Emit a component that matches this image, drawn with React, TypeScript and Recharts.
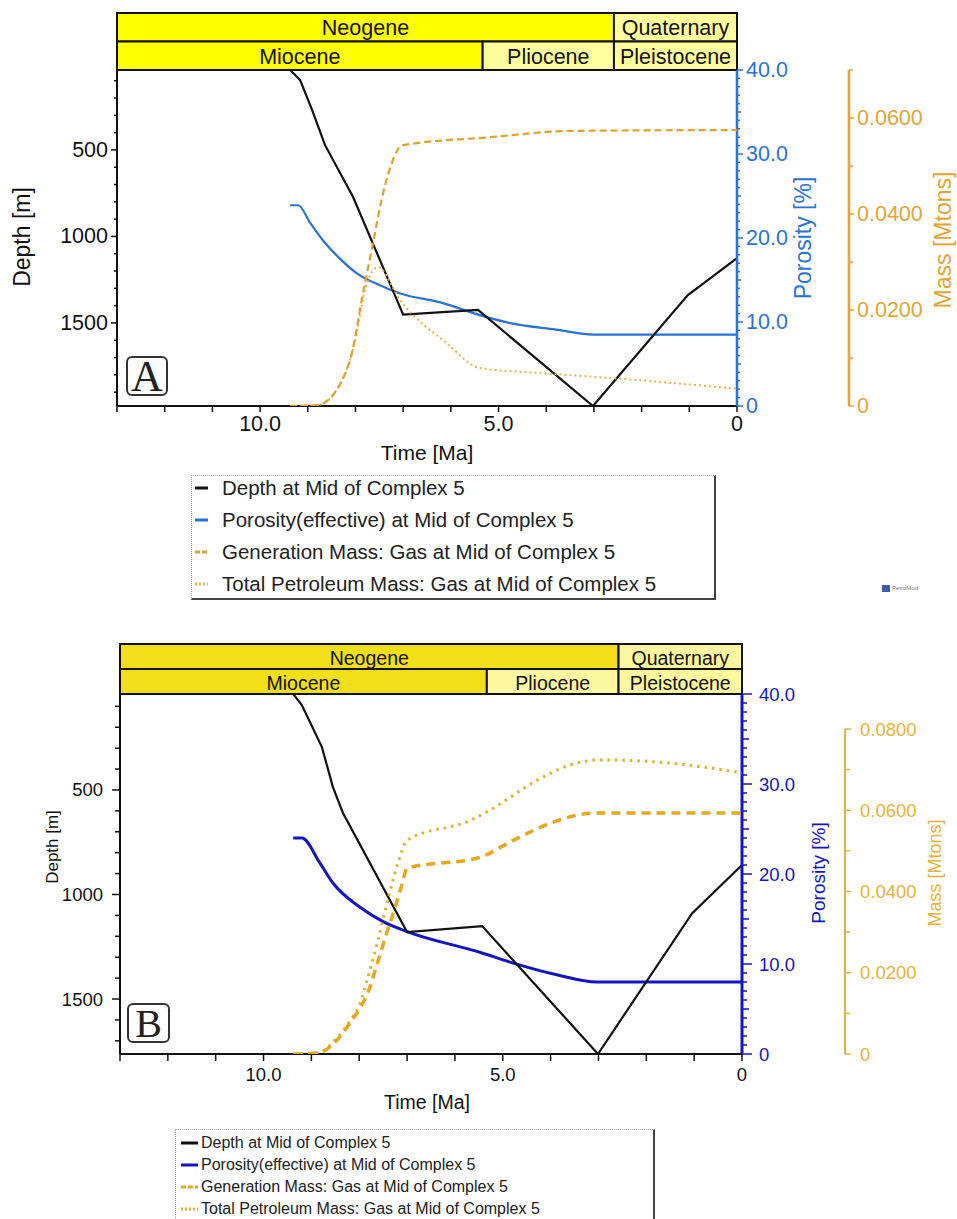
import React from 'react';
import { LineChart, Line, XAxis, YAxis, ReferenceArea } from 'recharts';

const W = 957;
const FONT = '"Liberation Sans", Arial, sans-serif';
const SERIF = '"Liberation Serif", "DejaVu Serif", serif';

// ---------------- Panel A data (time in Ma) ----------------
const aDepthT = [9.37, 9.16, 8.91, 8.64, 8.05, 7.0, 5.43, 3.02, 1.03, 0];
const aDepthV = [38, 96, 269, 471, 772, 1452, 1425, 1980, 1339, 1125];
const aPorT = [9.37, 9.2, 8.95, 8.68, 8.3, 7.97, 7.5, 7.06, 6.2, 5.32, 4.7, 3.8, 3.0, 0];
const aPorV = [23.9, 23.9, 21.8, 19.7, 17.4, 15.8, 14.4, 13.4, 12.3, 10.7, 9.8, 9.1, 8.5, 8.5];
const aGenT = [9.37, 8.8, 8.32, 8.05, 7.86, 7.65, 7.44, 7.27, 7.02, 5.18, 3.5, 0];
const aGenV = [0, 0.0002, 0.0046, 0.0121, 0.0226, 0.033, 0.0435, 0.0497, 0.0543, 0.056, 0.0573, 0.0575];
const aTotT = [9.37, 8.8, 8.32, 8.05, 7.76, 7.53, 7.06, 6.08, 5.39, 4.19, 3.02, 2.6, 0];
const aTotV = [0, 0.0002, 0.0046, 0.0118, 0.0255, 0.0289, 0.022, 0.013, 0.0079, 0.0069, 0.0061, 0.0058, 0.0036];

// ---------------- Panel B data (time in Ma) ----------------
const bDepthT = [9.38, 9.2, 8.78, 8.55, 8.34, 7.0, 5.43, 3.01, 1.04, 0];
const bDepthV = [41, 94, 295, 486, 610, 1180, 1151, 1763, 1089, 859];
const bPorT = [9.38, 9.2, 8.82, 8.55, 7.98, 7.5, 7.0, 5.48, 4.78, 3.87, 3.03, 0];
const bPorV = [24.0, 24.0, 21.2, 19.0, 16.3, 14.7, 13.6, 11.3, 10.1, 8.8, 8.0, 8.0];
const bGenT = [9.38, 8.85, 8.5, 8.2, 7.95, 7.84, 7.63, 7.42, 7.29, 7.1, 7.0, 5.48, 4.78, 3.94, 3.1, 0];
const bGenV = [0, 0.0003, 0.003, 0.0075, 0.012, 0.0145, 0.022, 0.03, 0.0346, 0.042, 0.0457, 0.0484, 0.0526, 0.0571, 0.0593, 0.0593];
const bTotT = [9.38, 8.85, 8.5, 8.2, 7.95, 7.84, 7.63, 7.4, 7.19, 7.0, 5.68, 5.27, 4.28, 3.6, 2.97, 1.5, 0];
const bTotV = [0, 0.0003, 0.0035, 0.008, 0.0135, 0.018, 0.027, 0.038, 0.047, 0.0526, 0.0575, 0.06, 0.0674, 0.0711, 0.0724, 0.0716, 0.0692];

// ---------------- Axes: ticks & labels ----------------
const timeTicks = [0, 1, 2, 3, 4, 5, 6, 7, 8, 9, 10, 11, 12, 13];
const timeLabels: [number, string][] = [[10, '10.0'], [5, '5.0'], [0, '0']];
const porTicks = Array.from({ length: 41 }, (_, i) => i);
const porLabels: [number, string][] = [[40, '40.0'], [30, '30.0'], [20, '20.0'], [10, '10.0'], [0, '0']];
const aDepthTicks = Array.from({ length: 19 }, (_, i) => (i + 1) * 100);
const bDepthTicks = Array.from({ length: 17 }, (_, i) => (i + 1) * 100);
const depthLabels: [number, string][] = [[500, '500'], [1000, '1000'], [1500, '1500']];
const aMassTicks = [0, 0.01, 0.02, 0.03, 0.04, 0.05, 0.06, 0.07];
const aMassLabels: [number, string][] = [[0, '0'], [0.02, '0.0200'], [0.04, '0.0400'], [0.06, '0.0600']];
const bMassTicks = [0, 0.01, 0.02, 0.03, 0.04, 0.05, 0.06, 0.07, 0.08];
const bMassLabels: [number, string][] = [[0, '0'], [0.02, '0.0200'], [0.04, '0.0400'], [0.06, '0.0600'], [0.08, '0.0800']];

// ---------------- Geologic time scale ----------------
const periodNames = ['Neogene', 'Quaternary'];
const periodStart = [23.03, 2.58];
const periodEnd = [2.58, 0];
const epochNames = ['Miocene', 'Pliocene', 'Pleistocene'];
const epochStart = [23.03, 5.333, 2.58];
const epochEnd = [5.333, 2.58, 0];

const legendNames = [
  'Depth at Mid of Complex 5',
  'Porosity(effective) at Mid of Complex 5',
  'Generation Mass: Gas at Mid of Complex 5',
  'Total Petroleum Mass: Gas at Mid of Complex 5',
];

const zip = (t: number[], v: number[]) => t.map((x, i) => ({ t: x, v: v[i] }));

type TickOpt = {
  labels: [number, string][];
  color: string;
  font: number;
  gap: number;
  major: number;
  minor: number;
  mid?: number;
  midEvery?: number;
  side: 'left' | 'right' | 'bottom';
  sw?: number;
};

function makeTick(o: TickOpt) {
  return (props: any) => {
    const { x, y, payload } = props;
    const v = Number(payload && payload.value);
    const hit = o.labels.find(([lv]) => Math.abs(lv - v) < 1e-7);
    let len = hit ? o.major : o.minor;
    if (!hit && o.mid && o.midEvery) {
      const r = v / o.midEvery;
      if (Math.abs(r - Math.round(r)) < 1e-7) len = o.mid;
    }
    const sw = o.sw ?? 1.5;
    if (o.side === 'bottom') {
      return (
        <g>
          <line x1={x} x2={x} y1={y} y2={y + len} stroke={o.color} strokeWidth={sw} />
          {hit && (
            <text x={x} y={y + o.gap} textAnchor="middle" dominantBaseline="central" fontSize={o.font} fill={o.color} fontFamily={FONT}>
              {hit[1]}
            </text>
          )}
        </g>
      );
    }
    const dir = o.side === 'left' ? -1 : 1;
    return (
      <g>
        <line x1={x} x2={x + dir * len} y1={y} y2={y} stroke={o.color} strokeWidth={sw} />
        {hit && (
          <text x={x + dir * o.gap} y={y} textAnchor={o.side === 'left' ? 'end' : 'start'} dominantBaseline="central" fontSize={o.font} fill={o.color} fontFamily={FONT}>
            {hit[1]}
          </text>
        )}
      </g>
    );
  };
}

const headerLabel = (name: string, font: number) => (props: any) => {
  const vb = props && props.viewBox;
  if (!vb) return null;
  return (
    <text x={vb.x + vb.width / 2} y={vb.y + vb.height / 2 + 1} textAnchor="middle" dominantBaseline="central" fontSize={font} fontFamily={FONT} fill="#111">
      {name}
    </text>
  );
};

type Series = { t: number[]; v: number[] };
type PanelCfg = {
  chartTop: number;
  chartHeight: number;
  plotLeft: number;
  plotRight: number;
  plotTop: number;
  plotBottom: number;
  massTop: number;
  porWidth: number;
  massWidth: number;
  headerTop: number;
  depthDomain: [number, number];
  depthTicks: number[];
  massDomain: [number, number];
  massTicks: number[];
  massLabels: [number, string][];
  depth: Series;
  por: Series;
  gen: Series;
  tot: Series;
  c: { black: string; blue: string; gen: string; tot: string; massAxis: string; neo: string; pale: string };
  tickFont: number;
  headerFont: number;
  g: { xLen: number; xGap: number; dMaj: number; dMin: number; dGap: number; pMaj: number; pMid: number; pMin: number; pGap: number; mMaj: number; mMin: number; mGap: number };
  w: { black: number; blue: number; gen: number; tot: number; genDash: string; totDash: string; porAxis: number; massAxis: number };
  titles: { depth: [number, number, number]; time: [number, number, number]; por: [number, number, number]; mass: [number, number, number] };
  letter: { ch: string; x: number; y: number; w: number; h: number; font: number };
  legend: { x: number; y: number; w: number; h: number; font: number; rows: number[]; iconX: number; iconW: number; textX: number };
};

function Title({ text, x, y, size, color, rotate }: { text: string; x: number; y: number; size: number; color: string; rotate?: boolean }) {
  return (
    <div
      style={{
        position: 'absolute',
        left: x,
        top: y,
        transform: `translate(-50%, -50%)${rotate ? ' rotate(-90deg)' : ''}`,
        whiteSpace: 'nowrap',
        fontFamily: FONT,
        fontSize: size,
        color,
        lineHeight: 1,
      }}
    >
      {text}
    </div>
  );
}

function Panel({ cfg }: { cfg: PanelCfg }) {
  const hdrH = cfg.plotTop - cfg.headerTop;
  const xAxisH = cfg.chartTop + cfg.chartHeight - cfg.plotBottom;
  const cells = [
    ...periodNames.map((n, i) => ({ n, x1: Math.min(periodStart[i], 13), x2: periodEnd[i], y1: 1, y2: 2, fill: i === 0 ? cfg.c.neo : cfg.c.pale })),
    ...epochNames.map((n, i) => ({ n, x1: Math.min(epochStart[i], 13), x2: epochEnd[i], y1: 0, y2: 1, fill: i === 0 ? cfg.c.neo : cfg.c.pale })),
  ];
  const legendStyles = [
    { color: cfg.c.black, dash: undefined as string | undefined, w: 3 },
    { color: cfg.c.blue, dash: undefined as string | undefined, w: 3 },
    { color: cfg.c.gen, dash: '5 2', w: 3 },
    { color: cfg.c.tot, dash: '2 2', w: 3 },
  ];
  const L = cfg.legend;
  return (
    <>
      {/* geologic time header */}
      <div style={{ position: 'absolute', left: 0, top: cfg.headerTop - 1 }}>
        <LineChart width={W} height={hdrH + 2} margin={{ top: 1, bottom: 1, left: cfg.plotLeft, right: W - cfg.plotRight }}>
          <XAxis xAxisId="t" type="number" dataKey="t" domain={[0, 13]} reversed hide allowDataOverflow />
          <YAxis yAxisId="r" type="number" domain={[0, 2]} hide allowDataOverflow />
          {cells.map((c) => (
            <ReferenceArea
              key={c.n}
              xAxisId="t"
              yAxisId="r"
              x1={c.x1}
              x2={c.x2}
              y1={c.y1}
              y2={c.y2}
              fill={c.fill}
              fillOpacity={1}
              stroke="#111"
              strokeWidth={2}
              ifOverflow="visible"
              label={headerLabel(c.n, cfg.headerFont)}
            />
          ))}
        </LineChart>
      </div>

      {/* depth + porosity */}
      <div style={{ position: 'absolute', left: 0, top: cfg.chartTop }}>
        <LineChart
          width={W}
          height={cfg.chartHeight}
          margin={{ top: cfg.plotTop - cfg.chartTop, left: 0, right: W - cfg.plotRight - cfg.porWidth, bottom: 0 }}
        >
          <XAxis
            xAxisId="t"
            type="number"
            dataKey="t"
            domain={[0, 13]}
            reversed
            allowDataOverflow
            ticks={timeTicks}
            interval={0}
            tickSize={0}
            tickMargin={0}
            height={xAxisH}
            axisLine={{ stroke: '#111', strokeWidth: 2 }}
            tickLine={false}
            tick={makeTick({ labels: timeLabels, color: '#111', font: cfg.tickFont, gap: cfg.g.xGap, major: cfg.g.xLen, minor: cfg.g.xLen, side: 'bottom' })}
          />
          <YAxis
            yAxisId="depth"
            orientation="left"
            type="number"
            width={cfg.plotLeft}
            domain={cfg.depthDomain}
            reversed
            allowDataOverflow
            ticks={cfg.depthTicks}
            interval={0}
            tickSize={0}
            tickMargin={0}
            axisLine={{ stroke: '#111', strokeWidth: 2 }}
            tickLine={false}
            tick={makeTick({ labels: depthLabels, color: '#111', font: cfg.tickFont, gap: cfg.g.dGap, major: cfg.g.dMaj, minor: cfg.g.dMin, side: 'left' })}
          />
          <YAxis
            yAxisId="por"
            orientation="right"
            type="number"
            width={cfg.porWidth}
            domain={[0, 40]}
            allowDataOverflow
            ticks={porTicks}
            interval={0}
            tickSize={0}
            tickMargin={0}
            axisLine={{ stroke: cfg.c.blue, strokeWidth: cfg.w.porAxis }}
            tickLine={false}
            tick={makeTick({ labels: porLabels, color: cfg.c.blue, font: cfg.tickFont, gap: cfg.g.pGap, major: cfg.g.pMaj, minor: cfg.g.pMin, mid: cfg.g.pMid, midEvery: 5, side: 'right' })}
          />
          <Line xAxisId="t" yAxisId="por" data={zip(cfg.por.t, cfg.por.v)} dataKey="v" type="monotone" stroke={cfg.c.blue} strokeWidth={cfg.w.blue} dot={false} isAnimationActive={false} />
          <Line xAxisId="t" yAxisId="depth" data={zip(cfg.depth.t, cfg.depth.v)} dataKey="v" type="linear" stroke={cfg.c.black} strokeWidth={cfg.w.black} dot={false} isAnimationActive={false} />
        </LineChart>
      </div>

      {/* mass series + mass axis (a spacer axis keeps it out beyond the porosity axis) */}
      <div style={{ position: 'absolute', left: 0, top: cfg.chartTop }}>
        <LineChart
          width={W}
          height={cfg.chartHeight}
          margin={{
            top: cfg.massTop - cfg.chartTop,
            left: cfg.plotLeft,
            right: W - cfg.plotRight - cfg.porWidth - cfg.massWidth,
            bottom: xAxisH,
          }}
        >
          <XAxis xAxisId="t" type="number" dataKey="t" domain={[0, 13]} reversed allowDataOverflow hide />
          <YAxis yAxisId="a_spacer" orientation="right" type="number" width={cfg.porWidth} axisLine={false} tickLine={false} tick={false} domain={[0, 1]} />
          <YAxis
            yAxisId="b_mass"
            orientation="right"
            type="number"
            width={cfg.massWidth}
            domain={cfg.massDomain}
            allowDataOverflow
            ticks={cfg.massTicks}
            interval={0}
            tickSize={0}
            tickMargin={0}
            axisLine={{ stroke: cfg.c.massAxis, strokeWidth: cfg.w.massAxis }}
            tickLine={false}
            tick={makeTick({ labels: cfg.massLabels, color: cfg.c.massAxis, font: cfg.tickFont, gap: cfg.g.mGap, major: cfg.g.mMaj, minor: cfg.g.mMin, side: 'right' })}
          />
          <Line xAxisId="t" yAxisId="b_mass" data={zip(cfg.tot.t, cfg.tot.v)} dataKey="v" type="monotone" stroke={cfg.c.tot} strokeWidth={cfg.w.tot} strokeDasharray={cfg.w.totDash} dot={false} isAnimationActive={false} />
          <Line xAxisId="t" yAxisId="b_mass" data={zip(cfg.gen.t, cfg.gen.v)} dataKey="v" type="monotone" stroke={cfg.c.gen} strokeWidth={cfg.w.gen} strokeDasharray={cfg.w.genDash} dot={false} isAnimationActive={false} />
        </LineChart>
      </div>

      {/* axis titles */}
      <Title text="Depth [m]" x={cfg.titles.depth[0]} y={cfg.titles.depth[1]} size={cfg.titles.depth[2]} color="#111" rotate />
      <Title text="Time [Ma]" x={cfg.titles.time[0]} y={cfg.titles.time[1]} size={cfg.titles.time[2]} color="#111" />
      <Title text="Porosity [%]" x={cfg.titles.por[0]} y={cfg.titles.por[1]} size={cfg.titles.por[2]} color={cfg.c.blue} rotate />
      <Title text="Mass [Mtons]" x={cfg.titles.mass[0]} y={cfg.titles.mass[1]} size={cfg.titles.mass[2]} color={cfg.c.massAxis} rotate />

      {/* panel letter */}
      <div
        style={{
          position: 'absolute',
          left: cfg.letter.x,
          top: cfg.letter.y,
          width: cfg.letter.w,
          height: cfg.letter.h,
          boxSizing: 'border-box',
          border: '2px solid #333',
          borderRadius: 6,
          fontFamily: SERIF,
          fontSize: cfg.letter.font,
          lineHeight: `${cfg.letter.h - 2}px`,
          textAlign: 'center',
          color: '#222',
        }}
      >
        {cfg.letter.ch}
      </div>

      {/* legend */}
      <div
        style={{
          position: 'absolute',
          left: L.x,
          top: L.y,
          width: L.w,
          height: L.h,
          boxSizing: 'border-box',
          borderTop: '1px dotted #aaa',
          borderLeft: '1px dotted #aaa',
          borderRight: '2px solid #444',
          borderBottom: '2px solid #444',
          background: '#fff',
        }}
      >
        {legendNames.map((n, i) => (
          <div key={n}>
            <svg style={{ position: 'absolute', left: L.iconX, top: L.rows[i] - 4 }} width={L.iconW} height={8}>
              <line x1={0} x2={L.iconW} y1={4} y2={4} stroke={legendStyles[i].color} strokeWidth={legendStyles[i].w} strokeDasharray={legendStyles[i].dash} />
            </svg>
            <div
              style={{
                position: 'absolute',
                left: L.textX,
                top: L.rows[i],
                transform: 'translateY(-50%)',
                fontFamily: FONT,
                fontSize: L.font,
                color: '#222',
                whiteSpace: 'nowrap',
                lineHeight: 1,
              }}
            >
              {n}
            </div>
          </div>
        ))}
      </div>
    </>
  );
}

const panelA: PanelCfg = {
  chartTop: 0,
  chartHeight: 470,
  plotLeft: 117,
  plotRight: 737,
  plotTop: 70,
  plotBottom: 406,
  massTop: 70,
  porWidth: 112,
  massWidth: 108,
  headerTop: 13,
  depthDomain: [38, 1980],
  depthTicks: aDepthTicks,
  massDomain: [0, 0.07],
  massTicks: aMassTicks,
  massLabels: aMassLabels,
  depth: { t: aDepthT, v: aDepthV },
  por: { t: aPorT, v: aPorV },
  gen: { t: aGenT, v: aGenV },
  tot: { t: aTotT, v: aTotV },
  c: { black: '#111111', blue: '#2a72d6', gen: '#e2a02e', tot: '#e9b44a', massAxis: '#e2a535', neo: '#ffff00', pale: '#ffff9e' },
  tickFont: 21.5,
  headerFont: 21.5,
  g: { xLen: 6, xGap: 18, dMaj: 6, dMin: 3, dGap: 9, pMaj: 6, pMid: 4, pMin: 3, pGap: 9, mMaj: 5, mMin: 4, mGap: 8 },
  w: { black: 2.2, blue: 2.2, gen: 2.2, tot: 2, genDash: '7 4', totDash: '2 3', porAxis: 2.5, massAxis: 2.5 },
  titles: { depth: [22, 237, 23], time: [427, 452, 21], por: [803, 238, 23], mass: [943, 240, 23] },
  letter: { ch: 'A', x: 126, y: 356, w: 42, h: 40, font: 44 },
  legend: { x: 191, y: 475, w: 525, h: 125, font: 20.5, rows: [12, 44, 76, 108], iconX: 3, iconW: 13, textX: 30 },
};

const panelB: PanelCfg = {
  chartTop: 600,
  chartHeight: 520,
  plotLeft: 120,
  plotRight: 742,
  plotTop: 694,
  plotBottom: 1054,
  massTop: 729,
  porWidth: 103,
  massWidth: 112,
  headerTop: 644,
  depthDomain: [41, 1763],
  depthTicks: bDepthTicks,
  massDomain: [0, 0.08],
  massTicks: bMassTicks,
  massLabels: bMassLabels,
  depth: { t: bDepthT, v: bDepthV },
  por: { t: bPorT, v: bPorV },
  gen: { t: bGenT, v: bGenV },
  tot: { t: bTotT, v: bTotV },
  c: { black: '#111111', blue: '#1414c0', gen: '#e5a81f', tot: '#e6ae2a', massAxis: '#e8b23a', neo: '#f2df18', pale: '#fbf8a0' },
  tickFont: 18.5,
  headerFont: 19.5,
  g: { xLen: 7, xGap: 20, dMaj: 8, dMin: 5, dGap: 17, pMaj: 10, pMid: 7, pMin: 5, pGap: 17, mMaj: 6, mMin: 5, mGap: 15 },
  w: { black: 2.2, blue: 3, gen: 3.5, tot: 3, genDash: '9 6', totDash: '2.5 5', porAxis: 3, massAxis: 2 },
  titles: { depth: [52, 847, 17], time: [427, 1103, 19.5], por: [818, 873, 19], mass: [935, 873, 18] },
  letter: { ch: 'B', x: 127, y: 1003, w: 43, h: 40, font: 40 },
  legend: { x: 175, y: 1129, w: 480, h: 110, font: 16, rows: [13, 35, 57, 79], iconX: 5, iconW: 17, textX: 25 },
};

export default function App() {
  return (
    <div style={{ position: 'absolute', left: 0, top: 0, width: W, height: 1219, background: '#fff', overflow: 'hidden' }}>
      <Panel cfg={panelA} />
      <Panel cfg={panelB} />
      {/* PetroMod badge */}
      <div style={{ position: 'absolute', left: 882, top: 585, width: 8, height: 7, background: '#3a5fa8' }} />
      <div style={{ position: 'absolute', left: 892, top: 585, fontFamily: FONT, fontSize: 6, color: '#777', lineHeight: '7px' }}>PetroMod</div>
    </div>
  );
}
